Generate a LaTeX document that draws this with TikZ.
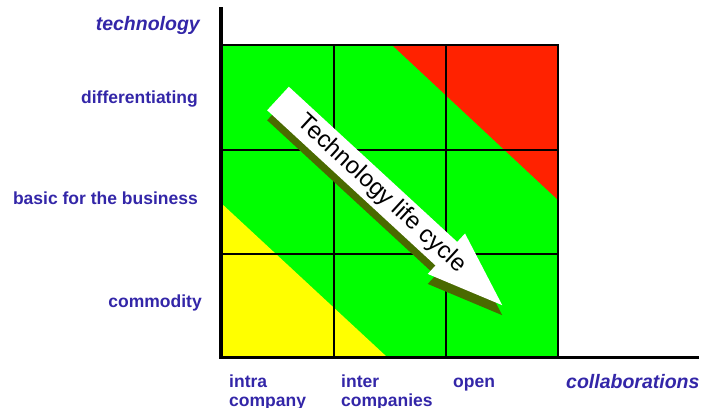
\documentclass[tikz,border=0pt]{standalone}
\usepackage{fontspec}
\setmainfont{Liberation Sans}
\usetikzlibrary{positioning}
\definecolor{labelblue}{RGB}{51,38,168}
\definecolor{cellgreen}{RGB}{0,255,0}
\definecolor{cellred}{RGB}{255,34,0}
\definecolor{cellyellow}{RGB}{255,255,0}
\definecolor{shadowolive}{RGB}{74,106,0}
\tikzset{
  axislabel/.style={text=labelblue, font=\fontsize{19.5}{22}\selectfont\bfseries\itshape, inner sep=0pt},
  rowlabel/.style={text=labelblue, font=\fontsize{17.5}{19.5}\selectfont\bfseries, inner sep=0pt, align=left},
  gridline/.style={black, line width=1.6pt},
}

\begin{document}
\begin{tikzpicture}[x=1pt, y=-1pt]
    \useasboundingbox (0,0) rectangle (701,407);
    % Draw cells
    \fill[cellgreen] (221,45) rectangle (558,357);
    \fill[cellred] (392,45) -- (558,45) -- (558,200) -- cycle;
    \fill[cellyellow] (221,203) -- (221,357) -- (387,357) -- cycle;
    \foreach \gx in {334,446}
      \draw[gridline] (\gx,45) -- (\gx,357);
    \foreach \gy in {150,254}
      \draw[gridline] (221,\gy) -- (558,\gy);
    \draw[gridline, line width=2pt] (221,45) -- (558,45) -- (558,357);
    % Draw axes
    \draw[black, line width=4pt] (220.5,7) -- (220.5,358);
    \draw[black, line width=2.6pt] (219,357.3) -- (699,357.3);
    % Draw life cycle arrow with its shadow
    \foreach \dy/\col in {10/shadowolive, 0/white} {
      \begin{scope}[shift={(278,98.5+\dy)}, rotate=-42.67]
        \fill[\col] (0,16) -- (229,16) -- (229,27.5) -- (305,0) -- (229,-27.5) -- (229,-16) -- (0,-16) -- cycle;
      \end{scope}
    }
    \node[rotate=-42.67, inner sep=0pt, font=\fontsize{24}{28}\selectfont] (cycle) at (381.5,194) {Technology life cycle};
    % Draw labels
    \node[axislabel, anchor=base east] (tech) at (200,30) {technology};
    \node[rowlabel, anchor=base east] (diff) at (198,103) {differentiating};
    \node[rowlabel, anchor=base east] (basic) at (198,204) {basic for the business};
    \node[rowlabel, anchor=base east] (comm) at (202,307) {commodity};
    \node[rowlabel, anchor=base west] (intra) at (229,406.5) {intra\\company};
    \node[rowlabel, anchor=base west] (inter) at (341,406.5) {inter\\companies};
    \node[rowlabel, anchor=base west] (open) at (453,387) {open};
    \node[axislabel, anchor=base west] (collab) at (566,388) {collaborations};
\end{tikzpicture}
\end{document}
